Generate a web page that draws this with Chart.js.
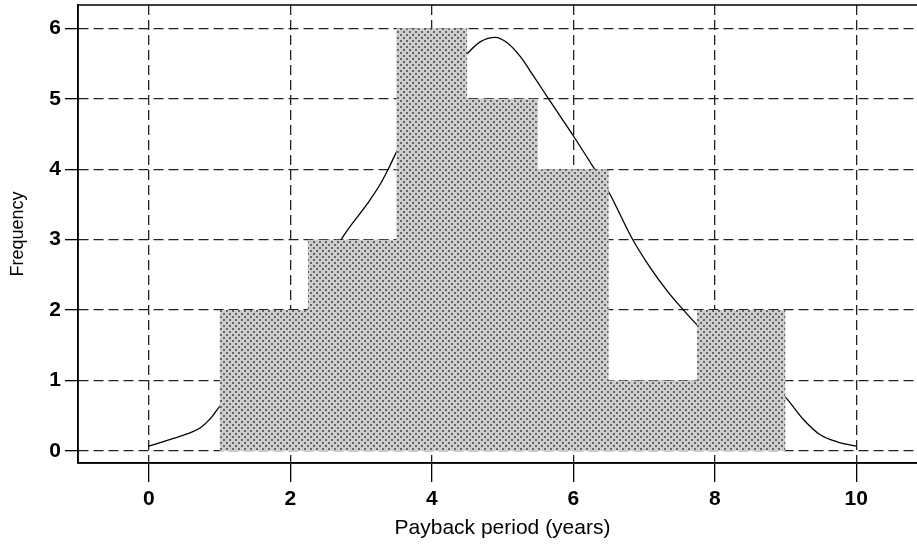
<!DOCTYPE html>
<html>
<head>
<meta charset="utf-8">
<script src="https://cdn.jsdelivr.net/npm/chart.js@4.4.0/dist/chart.umd.min.js"></script>
<style>
html, body { margin: 0; padding: 0; background: #fff; overflow: hidden; }
#wrap { width: 930px; height: 546px; }
</style>
</head>
<body>
<div id="wrap"><canvas id="chart"></canvas></div>
<script>
// Histogram bins (years) and counts
const binEdges = [1, 2.25, 3.5, 4.5, 5.5, 6.5, 7.75, 9];
const binCounts = [2, 3, 6, 5, 4, 1, 2];

// Fitted curve
const curveX = [0, 0.35, 0.59, 0.73, 0.88, 1.0, 1.5, 2.0, 2.25, 2.5, 2.72, 3.09, 3.28, 3.39, 3.51,
                4.0, 4.52, 4.69, 4.9, 5.07, 5.25, 5.44, 5.65, 6.01, 6.27, 6.5, 6.83, 7.09, 7.33,
                7.54, 7.76, 8.25, 8.75, 9.01, 9.26, 9.49, 9.73, 10.0];
const curveY = [0.07, 0.18, 0.26, 0.33, 0.47, 0.63, 1.2, 1.75, 2.0, 2.55, 3.0, 3.51, 3.8, 4.01, 4.26,
                5.1, 5.66, 5.81, 5.87, 5.79, 5.6, 5.32, 5.0, 4.46, 4.05, 3.68, 3.02, 2.6, 2.27,
                2.02, 1.78, 1.35, 1.0, 0.75, 0.44, 0.23, 0.13, 0.07];

// Tick labels
const xTicks = [0, 2, 4, 6, 8, 10];
const yTicks = [0, 1, 2, 3, 4, 5, 6];

// Build histogram outline as a closed polygon
const histPoints = [{ x: binEdges[0], y: 0 }];
for (let i = 0; i < binCounts.length; i++) {
    histPoints.push({ x: binEdges[i], y: binCounts[i] });
    histPoints.push({ x: binEdges[i + 1], y: binCounts[i] });
}
histPoints.push({ x: binEdges[binEdges.length - 1], y: 0 });

const curvePoints = curveX.map((x, i) => ({ x: x, y: curveY[i] }));

// Dotted gray fill like the original
function makeDots() {
    const c = document.createElement('canvas');
    c.width = 6;
    c.height = 6;
    const g = c.getContext('2d');
    g.fillStyle = '#cdcdcd';
    g.fillRect(0, 0, 6, 6);
    g.fillStyle = '#666';
    g.fillRect(1, 1, 2, 2);
    g.fillRect(4, 4, 2, 2);
    return g.createPattern(c, 'repeat');
}

// Box around the plot area
const frame = {
    id: 'frame',
    afterDraw(chart) {
        const a = chart.chartArea;
        const ctx = chart.ctx;
        ctx.save();
        ctx.strokeStyle = '#000';
        ctx.lineWidth = 1.5;
        ctx.strokeRect(a.left, a.top, a.right - a.left, a.bottom - a.top);
        ctx.restore();
    }
};

const gridOpts = {
    color: '#222',
    lineWidth: 1.3,
    tickColor: '#000',
    tickWidth: 1.3,
    tickBorderDash: []
};
const borderOpts = { color: '#000', width: 1.5, dash: [10, 5] };

new Chart(document.getElementById('chart'), {
    type: 'line',
    data: {
        datasets: [
            {
                label: 'Histogram',
                data: histPoints,
                order: 1,
                borderWidth: 0,
                borderColor: 'rgba(0,0,0,0)',
                backgroundColor: makeDots(),
                fill: 'origin',
                pointRadius: 0,
                tension: 0
            },
            {
                label: 'Curve',
                data: curvePoints,
                order: 2,
                borderColor: '#000',
                borderWidth: 1.3,
                pointRadius: 0,
                fill: false,
                cubicInterpolationMode: 'monotone'
            }
        ]
    },
    options: {
        responsive: true,
        maintainAspectRatio: false,
        animation: false,
        layout: { padding: { top: 5, right: 3, left: 0, bottom: 0 } },
        plugins: {
            legend: { display: false },
            tooltip: { enabled: false }
        },
        scales: {
            x: {
                type: 'linear',
                min: -1,
                max: 11,
                afterBuildTicks: s => { s.ticks = xTicks.map(v => ({ value: v })); },
                afterFit: s => { s.height = 83; s.paddingLeft = 0; s.paddingRight = 0; },
                grid: { ...gridOpts, tickLength: 19 },
                border: borderOpts,
                ticks: {
                    color: '#000',
                    padding: 5,
                    maxRotation: 0,
                    font: { family: 'Liberation Sans, Arial', size: 21, weight: 'bold' }
                },
                title: {
                    display: true,
                    text: 'Payback period (years)',
                    color: '#000',
                    padding: { top: 0, bottom: 5 },
                    font: { family: 'Liberation Sans, Arial', size: 21 }
                }
            },
            y: {
                type: 'linear',
                min: -0.17,
                max: 6.33,
                afterBuildTicks: s => { s.ticks = yTicks.map(v => ({ value: v })); },
                afterFit: s => { s.width = 78; s.paddingTop = 0; s.paddingBottom = 0; },
                grid: { ...gridOpts, tickLength: 13 },
                border: borderOpts,
                ticks: {
                    color: '#000',
                    padding: 4,
                    font: { family: 'Liberation Sans, Arial', size: 21, weight: 'bold' }
                },
                title: {
                    display: true,
                    text: 'Frequency',
                    color: '#000',
                    padding: { top: 7, bottom: 0 },
                    font: { family: 'Liberation Sans, Arial', size: 18 }
                }
            }
        }
    },
    plugins: [frame]
});
</script>
</body>
</html>
